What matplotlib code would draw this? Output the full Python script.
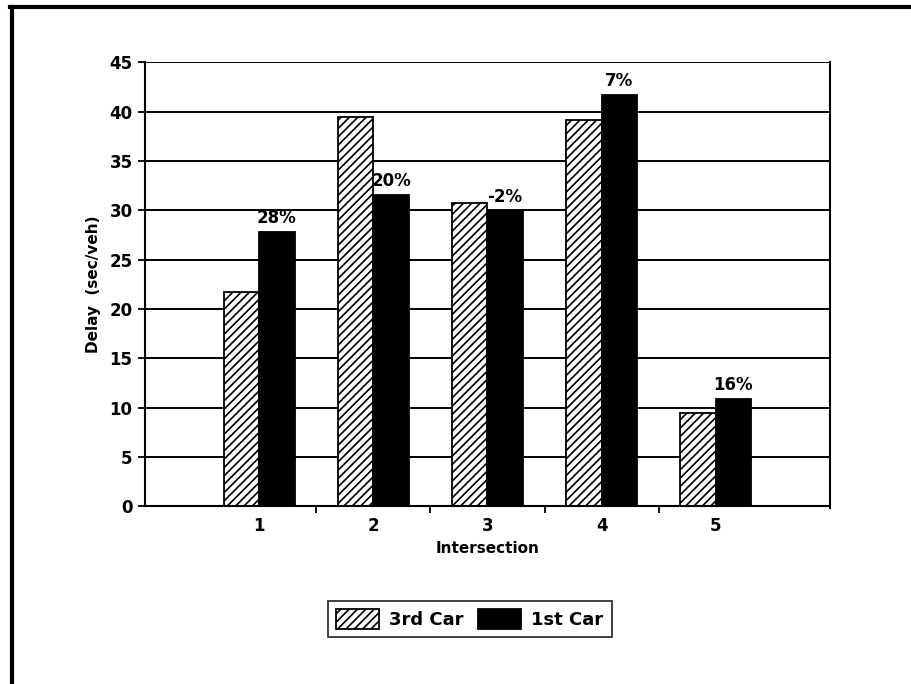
# Retraso por interseccion: 3er auto vs 1er auto
import numpy as np
import matplotlib.pyplot as plt
from matplotlib.lines import Line2D

plt.rcParams['hatch.linewidth'] = 1.2

# Datos
intersecciones = ['1', '2', '3', '4', '5']
tercer_auto = [21.7, 39.4, 30.7, 39.1, 9.4]
primer_auto = [27.8, 31.5, 29.9, 41.7, 10.9]
etiquetas_pct = ['28%', '20%', '-2%', '7%', '16%']

fig = plt.figure(figsize=(9.12, 6.84), dpi=100)
ax = fig.add_axes([0.159, 0.260, 0.751, 0.649])

x = np.arange(1, len(intersecciones) + 1)
ancho = 0.31

ax.set_axisbelow(True)
ax.yaxis.grid(True, color='black', linewidth=1.4)
ax.bar(x - ancho / 2, tercer_auto, ancho, color='white', edgecolor='black',
       hatch='////', linewidth=1.3, label='3rd Car')
ax.bar(x + ancho / 2, primer_auto, ancho, color='black', edgecolor='black',
       linewidth=1.3, label='1st Car')

for xi, val, txt in zip(x, primer_auto, etiquetas_pct):
    ax.text(xi + ancho / 2, val + 0.5, txt, ha='center', va='bottom',
            fontsize=12, fontweight='bold')

ax.set_xlim(0, 6)
ax.set_ylim(0, 45)
ax.set_yticks(np.arange(0, 46, 5))
ax.set_xticks(x)
ax.set_xticklabels(intersecciones, fontsize=12, fontweight='bold')
ax.set_xticks(np.arange(1.5, 5, 1), minor=True)
ax.tick_params(axis='x', which='major', length=0, pad=8)
ax.tick_params(axis='x', which='minor', length=5, width=1.3, direction='out')
ax.tick_params(axis='y', length=5, width=1.3, labelsize=12, pad=4)
for lbl in ax.get_yticklabels():
    lbl.set_fontweight('bold')

for s in ['left', 'bottom', 'right']:
    ax.spines[s].set_linewidth(1.5)
ax.spines['top'].set_visible(False)
ax.spines['right'].set_bounds(-0.2, 45)

ax.set_xlabel('Intersection', fontsize=11, fontweight='bold', labelpad=4)
ax.set_ylabel('Delay  (sec/veh)', fontsize=11, fontweight='bold', labelpad=6)

leyenda = ax.legend(loc='center', bbox_to_anchor=(0.474, -0.254), ncol=2,
                    fontsize=13, frameon=True, fancybox=False,
                    edgecolor='black', handlelength=2.4, handleheight=1.35,
                    columnspacing=0.8, handletextpad=0.55, borderpad=0.45)
leyenda.get_frame().set_linewidth(1.3)
for t in leyenda.get_texts():
    t.set_fontweight('bold')

# Marco de la figura (izquierda y arriba)
fig.add_artist(Line2D([0.013, 0.013], [0, 0.99], color='black', linewidth=3,
                      transform=fig.transFigure))
fig.add_artist(Line2D([0.011, 1.0], [0.99, 0.99], color='black', linewidth=3,
                      transform=fig.transFigure))

fig.savefig('out.png', dpi=100)
